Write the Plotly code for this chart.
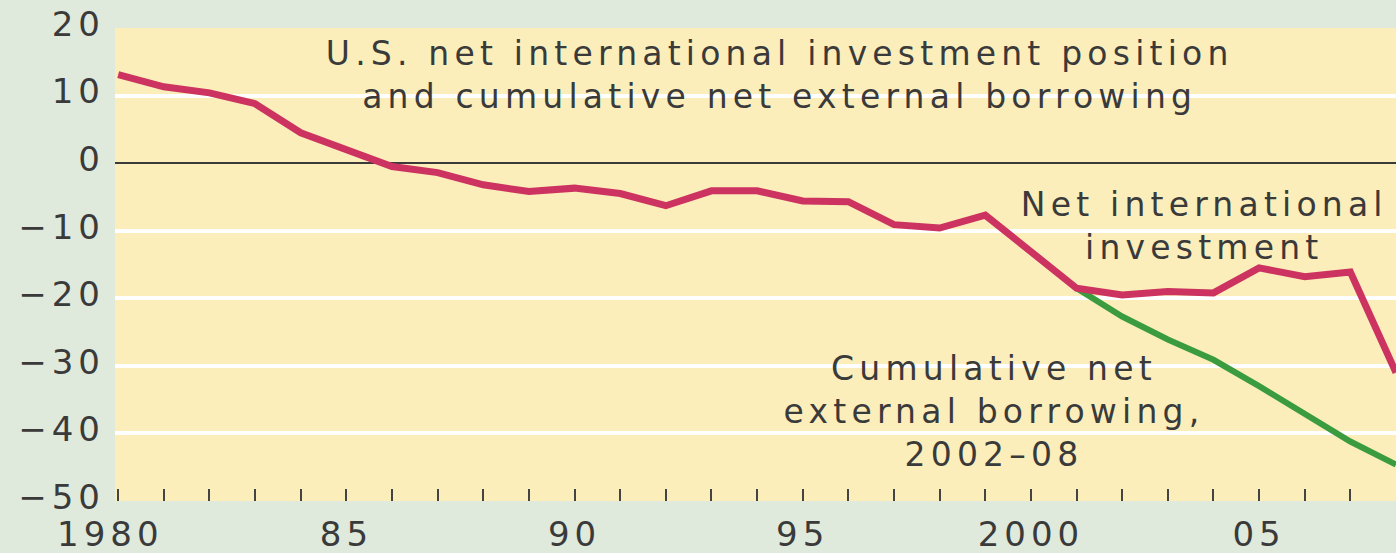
"""U.S. net international investment position vs cumulative net external borrowing."""

import plotly.graph_objects as go

# --- data (percent of GDP) ---
years = list(range(1980, 2009))
net_intl_investment = [
    13.1, 11.3, 10.4, 8.8, 4.5, 2.0, -0.5, -1.4, -3.2, -4.2,
    -3.7, -4.5, -6.3, -4.1, -4.1, -5.6, -5.7, -9.1, -9.6, -7.7,
    -13.1, -18.5, -19.5, -19.0, -19.2, -15.5, -16.8, -16.1, -31.0,
]
borrow_years = list(range(2001, 2009))
cumulative_borrowing = [-18.5, -22.7, -26.1, -29.1, -33.0, -37.2, -41.2, -44.6]

y_ticks = [20, 10, 0, -10, -20, -30, -40, -50]
grid_vals = [10, -10, -20, -30, -40]
x_labels = {1980: "1980\u00a0", 1985: "85", 1990: "90",
            1995: "95", 2000: "2000", 2005: "05"}

RED = "#cc3360"
GREEN = "#3a9b3f"
TEXT = "#3a3a3a"
FONT = "DejaVu Sans"

fig = go.Figure()

fig.add_trace(go.Scatter(
    x=borrow_years, y=cumulative_borrowing,
    mode="lines",
    line=dict(color=GREEN, width=6),
    hoverinfo="skip", showlegend=False,
))
fig.add_trace(go.Scatter(
    x=years, y=net_intl_investment,
    mode="lines",
    line=dict(color=RED, width=7),
    hoverinfo="skip", showlegend=False,
))

# --- labels on the plot ---
fig.add_annotation(
    x=1994.5, y=13.1, xref="x", yref="y",
    text="U.S. net international investment position<br>"
         "and cumulative net external borrowing",
    showarrow=False, align="center",
    font=dict(family=FONT, size=33, color=TEXT),
)
fig.add_annotation(
    x=2003.8, y=-9.3, xref="x", yref="y",
    text="Net international<br>investment",
    showarrow=False, align="center",
    font=dict(family=FONT, size=33, color=TEXT),
)
fig.add_annotation(
    x=1999.2, y=-36.8, xref="x", yref="y",
    text="Cumulative net<br>external borrowing,<br>2002\u201308",
    showarrow=False, align="center",
    font=dict(family=FONT, size=33, color=TEXT),
)

fig.update_layout(
    width=1396, height=553,
    margin=dict(l=115, r=0, t=28, b=52),
    paper_bgcolor="#dfe9dc",
    plot_bgcolor="#fbeebb",
    showlegend=False,
    xaxis=dict(
        range=[1979.93, 2008.0],
        tickvals=years,
        ticktext=[x_labels.get(y, "") for y in years],
        ticks="inside", ticklen=12, tickwidth=2, tickcolor="#444444",
        showgrid=False, zeroline=False, showline=False,
        tickfont=dict(family=FONT, size=34, color=TEXT),
        ticklabelstandoff=10,
        automargin=False,
    ),
    yaxis=dict(
        range=[-50, 20],
        tickvals=y_ticks,
        ticks="",
        showgrid=False, showline=False,
        zeroline=True, zerolinecolor="#3a3a3a", zerolinewidth=2,
        tickfont=dict(family=FONT, size=34, color=TEXT),
        ticklabelstandoff=9,
        ticklabelshift=-4,
        automargin=False,
        minor=dict(tickvals=grid_vals, showgrid=True,
                   gridcolor="white", gridwidth=4, ticks=""),
    ),
)

# page has no body margin; the source lettering is set wide
post = (
    "document.body.style.margin='0';"
    "var s=document.createElement('style');"
    "s.textContent='.annotation-text{letter-spacing:5.2px}"
    " .xtick text,.ytick text{letter-spacing:5px}';"
    "document.head.appendChild(s);"
)

fig.write_html("out.html", post_script=post,
               config={"displayModeBar": False})
